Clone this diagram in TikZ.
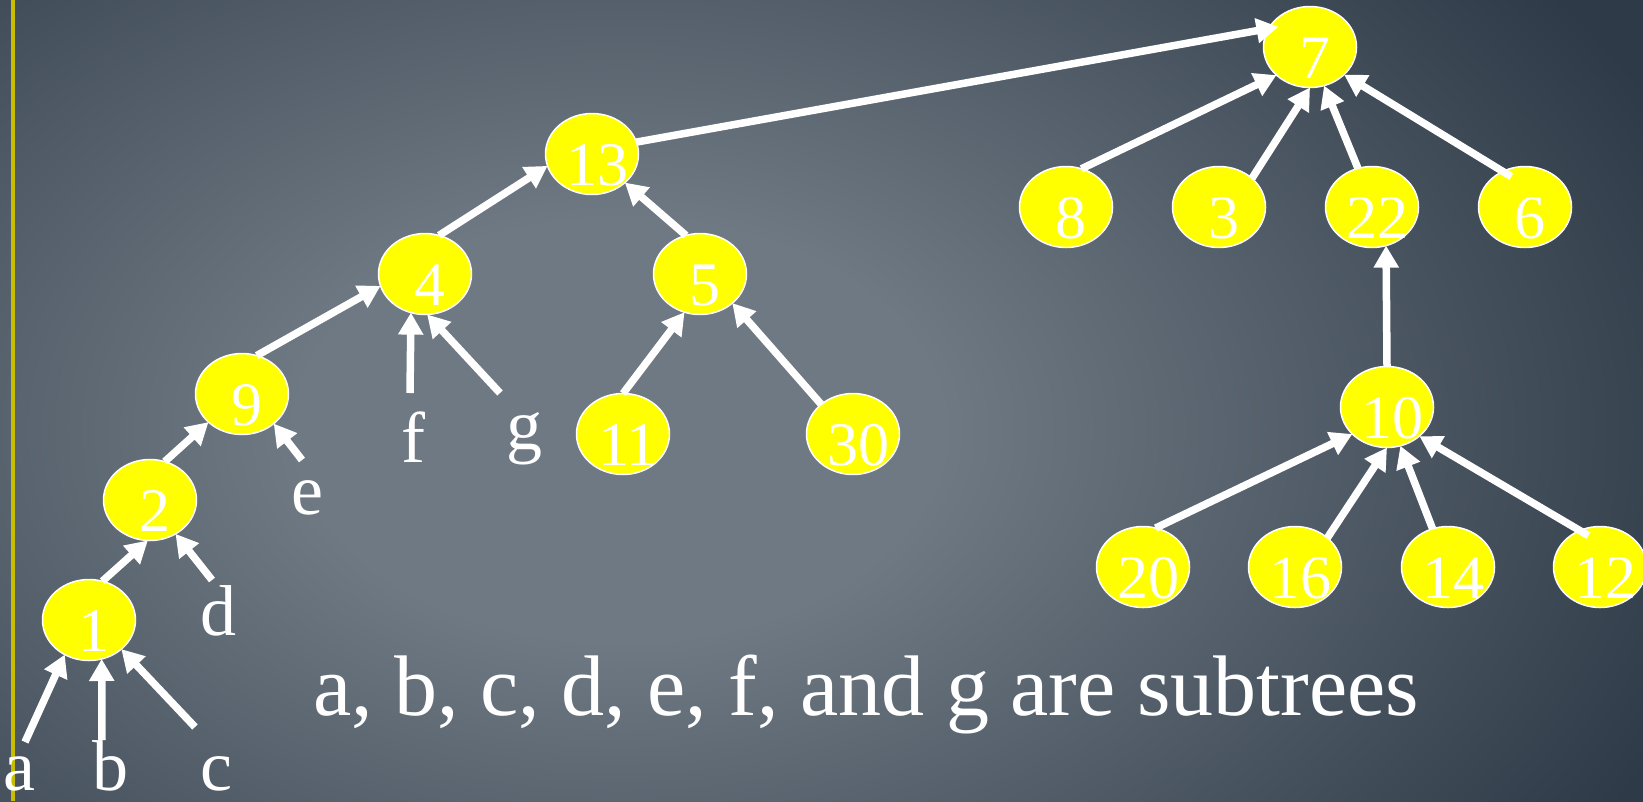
\documentclass[tikz,border=0pt]{standalone}
\usepackage{fontspec}
\setmainfont{Liberation Serif}
\usetikzlibrary{arrows.meta,shapes.geometric}
\definecolor{bgdark}{RGB}{46,58,71}
\definecolor{bglight}{RGB}{110,121,131}
\definecolor{rulecol}{RGB}{200,190,0}
\definecolor{nodey}{RGB}{255,255,0}
\pgfdeclareradialshading{bgshade}{\pgfpoint{0bp}{0bp}}{color(0bp)=(bglight); color(7bp)=(bglight); color(25bp)=(bgdark); color(50bp)=(bgdark)}
\begin{document}
\begin{tikzpicture}[x=1pt,y=-1pt,
  tn/.style={ellipse, draw=white, line width=1.5pt, fill=nodey, minimum width=93pt, minimum height=81pt, inner sep=0pt, outer sep=0pt},
  num/.style={anchor=base, text=white, font=\fontsize{62}{62}\selectfont, inner sep=0pt},
  sub/.style={anchor=base, text=white, font=\fontsize{72}{72}\selectfont, inner sep=0pt},
  arr/.style={draw=white, line width=7.5pt, -{Triangle[width=24pt,length=22pt]}}
]
\useasboundingbox (0,0) rectangle (1643,801);
\begin{scope}
  \clip (0,0) rectangle (1643,801);
  \fill[bgdark] (0,0) rectangle (1643,801);
  \shade[shading=bgshade] (-530,-320) rectangle (1770,1180);
\end{scope}
\draw[rulecol, line width=4pt] (13,0) -- (13,801);

% tree nodes
\foreach \n/\x/\y in {7/1310/47, 13/592/154, 8/1066/207, 3/1219/207, 22/1372/207, 6/1525/207, 4/425/274, 5/700/274, 9/242/394, 11/623/434, 30/853/434, 10/1387/407, 2/150/500, 1/89/620, 20/1143/567, 16/1295/567, 14/1448/567, 12/1600/567}{
  \node[tn] (n\n) at (\x,\y) {};
}

% free ends of subtree connectors
\coordinate (sa) at (25,742);
\coordinate (sb) at (102,740);
\coordinate (sc) at (195,727);
\coordinate (sd) at (212,580);
\coordinate (se) at (302,460);
\coordinate (sf) at (410,393);
\coordinate (sg) at (500,393);

% connectors
\draw[arr] (n1.71) -- (n2.-93);
\draw[arr] (n2.69) -- (n9.-140);
\draw[arr] (n9.69) -- (n4.-165);
\draw[arr] (n4.70) -- (n13.-165);
\draw[arr] (n5.110) -- (n13.-41);
\draw[arr] (n11.90) -- (n5.-112);
\draw[arr] (n30.137) -- (n5.-42);
\draw[arr, shorten >=-10pt] (n13.15) -- (n7.156);
\draw[arr] (n8.68) -- (n7.-140);
\draw[arr] (n3.41) -- (n7.-90);
\draw[arr] (n22.110) -- (n7.-70);
\draw[arr, shorten <=-10pt] (n6.122) -- (n7.-39);
\draw[arr] (n10.90) -- (n22.-70);
\draw[arr] (n20.72) -- (n10.-142);
\draw[arr] (n16.42) -- (n10.-90);
\draw[arr] (n14.112) -- (n10.-71);
\draw[arr, shorten <=-10pt] (n12.119) -- (n10.-42);

\draw[arr] (sa) -- (n1.-125);
\draw[arr] (sb) -- (n1.-72);
\draw[arr] (sc) -- (n1.-42);
\draw[arr] (sd) -- (n2.-53);
\draw[arr] (se) -- (n9.-43);
\draw[arr] (sf) -- (n4.-110);
\draw[arr] (sg) -- (n4.-87);

% numbers
\foreach \n/\x/\y in {7/1310/47, 13/592/154, 8/1066/207, 3/1219/207, 22/1372/207, 6/1525/207, 4/425/274, 5/700/274, 9/242/394, 11/623/434, 30/853/434, 10/1387/407, 2/150/500, 1/89/620, 20/1143/567, 16/1295/567, 14/1448/567, 12/1600/567}{
  \node[num] (t\n) at (\x+5,\y+31) {\n};
}

% subtree letters
\node[sub] (la) at (19,790) {a};
\node[sub] (lb) at (110,790) {b};
\node[sub] (lc) at (216,790) {c};
\node[sub] (ld) at (218,635) {d};
\node[sub] (le) at (307,514) {e};
\node[sub] (lf) at (413,462) {f};
\node[sub] (lg) at (524,449) {g};

\node[anchor=base, text=white, font=\fontsize{86}{86}\selectfont, inner sep=0pt] (cap) at (866,715) {a, b, c, d, e, f, and g are subtrees};
\end{tikzpicture}
\end{document}
